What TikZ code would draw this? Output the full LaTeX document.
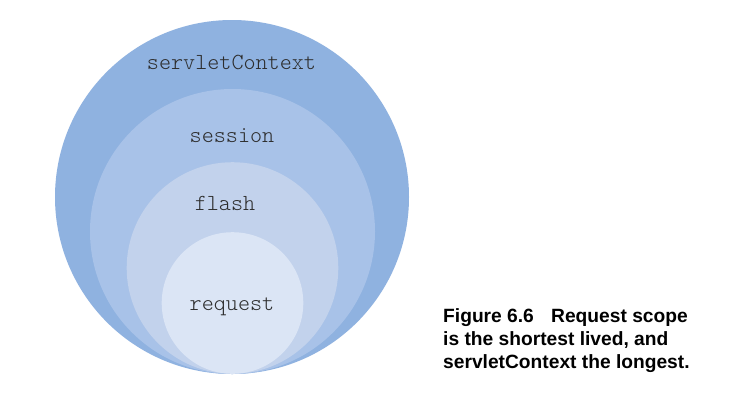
\documentclass[tikz,border=0pt]{standalone}
\usepackage{fontspec}
\setmainfont{Liberation Sans}
\newfontfamily\scopefont{Latin Modern Mono Light}
\definecolor{c1}{RGB}{143,178,224}
\definecolor{c2}{RGB}{168,194,232}
\definecolor{c3}{RGB}{194,210,236}
\definecolor{c4}{RGB}{219,229,245}
\definecolor{lbl}{RGB}{45,45,45}
\begin{document}
\begin{tikzpicture}[x=1pt,y=-1pt,
  scopecircle/.style={circle,draw=none,inner sep=0pt},
  scopelabel/.style={font=\fontsize{23}{23}\selectfont\scopefont,text=lbl,inner sep=0pt,anchor=base},
  caption/.style={font=\fontsize{19.2}{23}\selectfont\bfseries,inner sep=0pt,anchor=base west}]
\useasboundingbox (0,0) rectangle (749,400);
\fill[white] (0,0) rectangle (749,400);
\node[scopecircle,fill=c1,minimum size=354pt] (ctx) at (232,197) {};
\node[scopecircle,fill=c2,minimum size=285pt] (ses) at (232.5,231.5) {};
\node[scopecircle,fill=c3,minimum size=211.6pt] (fla) at (232.5,268) {};
\node[scopecircle,fill=c4,minimum size=141.6pt] (req) at (232.5,303) {};
\node[scopelabel] (tctx) at (231.5,69) {servletContext};
\node[scopelabel] (tses) at (232,142) {session};
\node[scopelabel] (tfla) at (225,210) {flash};
\node[scopelabel] (treq) at (232,310) {request};
\node[caption] (cap1) at (443,322) {Figure 6.6\hspace{0.9em}Request scope};
\node[caption] (cap2) at (443,345) {is the shortest lived, and};
\node[caption] (cap3) at (443,368) {servletContext the longest.};
\end{tikzpicture}
\end{document}
